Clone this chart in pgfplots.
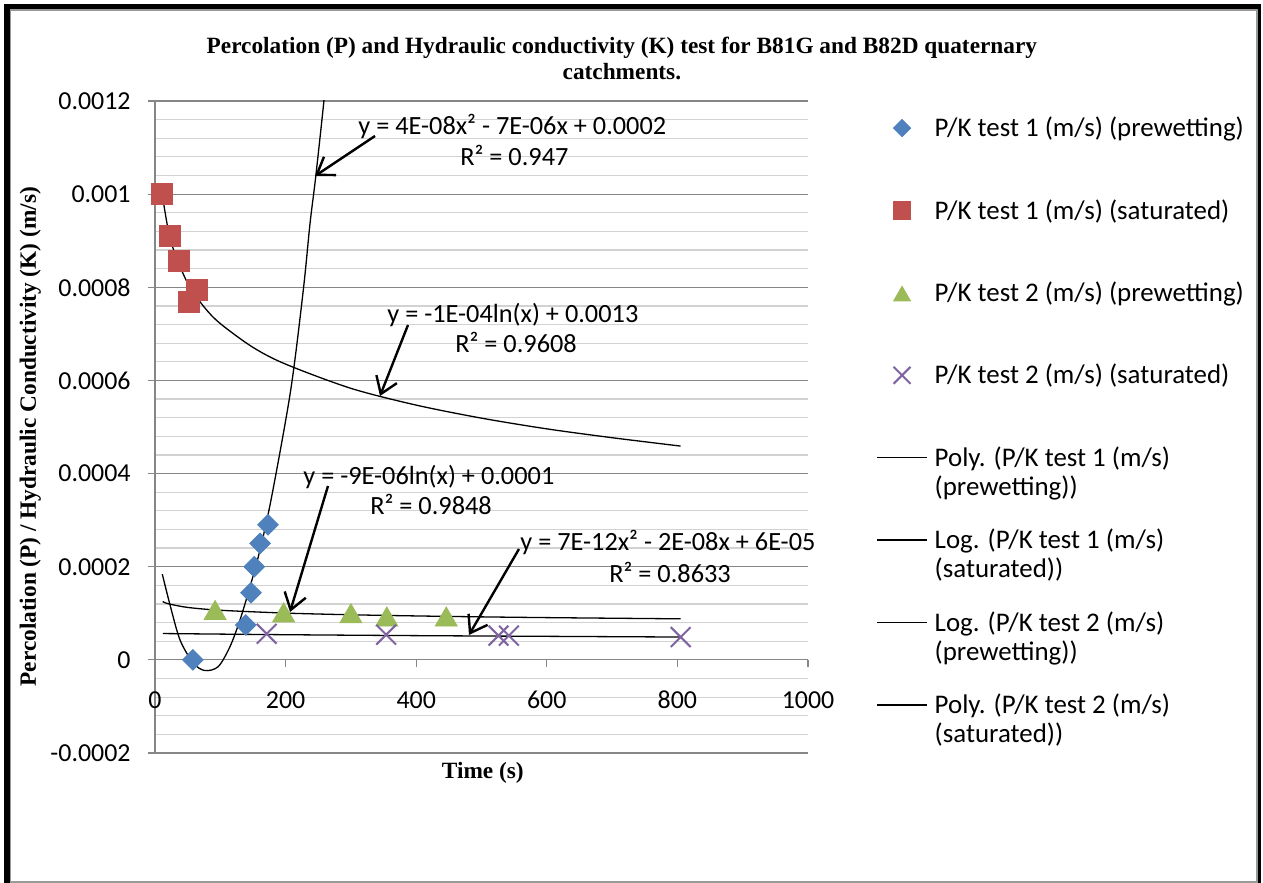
\documentclass[border=0pt]{standalone}
\usepackage{pgfplots}
\pgfplotsset{compat=1.18}
\usetikzlibrary{arrows.meta}
\usepackage{fontspec}
\setmainfont{Carlito}
\newfontfamily\tnr{Liberation Serif}

\definecolor{gridmaj}{RGB}{134,134,134}
\definecolor{gridmin}{RGB}{210,210,210}
\definecolor{xlblue}{RGB}{79,129,189}
\definecolor{xlred}{RGB}{192,80,77}
\definecolor{xlgreen}{RGB}{155,187,89}
\definecolor{xlpurple}{RGB}{128,100,162}

\newcommand{\lgd}[2]{\parbox[t]{158bp}{\fontsize{13.5}{14.5}\selectfont\strut #1\\\strut #2}}
\newcommand{\lgs}[1]{\parbox[t]{158bp}{\fontsize{13.5}{14.5}\selectfont\strut #1}}
\newcommand{\lblfont}{\tnr\bfseries\fontsize{11.7}{13}\selectfont}
\newcommand{\txtfont}{\fontsize{13}{14.5}\selectfont}
\newcommand{\annfont}{\fontsize{13.2}{14.5}\selectfont}

\pgfplotsset{
  xlmarkleg/.style={legend image code/.code={\draw[mark repeat=2,mark phase=2,##1] plot coordinates {(0bp,0bp)(12.5bp,0bp)(25bp,0bp)};}},
  xllineleg/.style={legend image code/.code={\draw[##1] (0bp,0bp) -- (25bp,0bp);}},
}

\begin{document}
\begin{tikzpicture}
\begin{scope}[x=0.5bp,y=-0.5bp,yshift=441.5bp]
  \fill[black] (4,4) rectangle (1261,883);
  \fill[black!40] (10,9) rectangle (1258,883);
  \fill[white] (11.5,11) rectangle (1256,881);
\end{scope}

\begin{axis}[
  at={(77.5bp,65bp)}, anchor=south west,
  width=326.5bp, height=326bp, scale only axis,
  xmin=0, xmax=1000, ymin=-0.0002, ymax=0.0012,
  scaled x ticks=false, scaled y ticks=false,
  axis x line*=middle, axis y line*=left,
  axis line style={draw=gridmaj, line width=0.6bp},
  hide obscured x ticks=false, hide obscured y ticks=false,
  xtick={0,200,400,600,800,1000},
  xticklabels={0,200,400,600,800,1000},
  ytick={-0.0002,0,0.0002,0.0004,0.0006,0.0008,0.001,0.0012},
  yticklabels={-0.0002,0,0.0002,0.0004,0.0006,0.0008,0.001,0.0012},
  minor y tick num=4,
  ymajorgrids, yminorgrids,
  major grid style={draw=gridmaj, line width=0.6bp},
  minor grid style={draw=gridmin, line width=0.6bp},
  tick align=outside, major tick length=3.5bp, minor tick length=0pt,
  tick style={draw=gridmaj, line width=0.6bp},
  xticklabel style={font=\txtfont, anchor=north, inner sep=0pt, yshift=-12bp},
  yticklabel style={font=\txtfont, anchor=east, inner sep=0pt, xshift=-8.5bp},
  title={Percolation (P) and Hydraulic conductivity (K) test for B81G and B82D quaternary\\catchments.},
  title style={font=\lblfont, align=center, at={(axis description cs:0.715,1.047)}, anchor=center},
  xlabel={Time (s)},
  xlabel style={font=\lblfont, at={(axis description cs:0.502,-0.031)}, anchor=center},
  ylabel={Percolation (P) / Hydraulic Conductivity (K) (m/s)},
  ylabel style={font=\lblfont, at={(axis description cs:-0.191,0.485)}, anchor=center},
  legend style={at={(axis description cs:1.095,0.983)}, anchor=north west,
    draw=none, fill=none, font=\txtfont, row sep=29.6bp, nodes={inner sep=0pt},
    /tikz/every odd column/.append style={column sep=3.5bp}},
  legend cell align=left,
]
% P/K test 1 (prewetting)
\addplot[only marks, mark=square*, mark size=3.65bp, mark options={rotate=45, draw=xlblue, fill=xlblue},
  xlmarkleg, legend image post style={mark size=3.05bp}] coordinates {
  (58,0) (139,0.000075) (147,0.000144) (152,0.0002) (161,0.00025) (173,0.00029)
};
\addlegendentry{\lgs{P/K test 1 (m/s) (prewetting)}}
% P/K test 1 (saturated)
\addplot[only marks, mark=square*, mark size=5.25bp, mark options={draw=xlred, fill=xlred},
  xlmarkleg, legend image post style={mark size=4.3bp}] coordinates {
  (11,0.001) (23,0.00091) (36,0.000857) (52,0.000769) (64,0.000794)
};
\addlegendentry{\lgs{P/K test 1 (m/s) (saturated)}}
% P/K test 2 (prewetting)
\addplot[only marks, mark=triangle*, mark size=6.35bp, mark options={draw=xlgreen, fill=xlgreen, yshift=-1.6bp},
  xlmarkleg, legend image post style={mark size=4.9bp}] coordinates {
  (92,0.000107) (197,0.000102) (300,0.0001) (355,0.000093) (446,0.000093)
};
\addlegendentry{\lgs{P/K test 2 (m/s) (prewetting)}}
% P/K test 2 (saturated)
\addplot[only marks, mark=x, mark size=7bp, mark options={draw=xlpurple, line width=1bp},
  xlmarkleg, legend image post style={mark size=6bp}] coordinates {
  (171,0.000056) (354,0.000054) (526,0.000052) (542,0.000052) (805,0.000049)
};
\addlegendentry{\lgs{P/K test 2 (m/s) (saturated)}}
% trendlines
\addplot[black, line width=0.65bp, smooth, xllineleg] coordinates {
  (11.2,0.000184) (23,0.000118) (38.3,0.0000429) (58.7,-0.0000071) (76.6,-0.000023)
  (96.9,-0.0000144) (114.9,0.0000285) (130.2,0.0000858) (145.5,0.000157) (160.8,0.000236)
  (178.6,0.00035) (207.8,0.000579) (227.1,0.000794) (237.4,0.000937) (246.1,0.001037)
  (258.8,0.001202) (262,0.00126)
};
\addlegendentry{\lgd{Poly. (P/K test 1 (m/s)}{(prewetting))}}
\addplot[black, line width=0.65bp, smooth, xllineleg] coordinates {
  (11,0.001) (20,0.000925) (30,0.000874) (50,0.000809) (75,0.000758) (100,0.000722)
  (150,0.000671) (200,0.000635) (300,0.000583) (400,0.000547) (500,0.000519)
  (600,0.000496) (700,0.000477) (805,0.000459)
};
\addlegendentry{\lgd{Log. (P/K test 1 (m/s)}{(saturated))}}
\addplot[black, line width=0.65bp, smooth, xllineleg] coordinates {
  (11.8,0.0001253) (20,0.0001206) (50,0.0001126) (100,0.0001065) (200,0.0001004)
  (300,0.0000968) (400,0.0000943) (500,0.0000923) (600,0.0000907) (700,0.0000894)
  (805,0.0000881)
};
\addlegendentry{\lgd{Log. (P/K test 2 (m/s)}{(prewetting))}}
\addplot[black, line width=0.65bp, smooth, xllineleg] coordinates {
  (12,0.0000565) (200,0.000054) (400,0.000052) (600,0.0000505) (805,0.000049)
};
\addlegendentry{\lgd{Poly. (P/K test 2 (m/s)}{(saturated))}}
\end{axis}

\begin{scope}[x=0.5bp,y=-0.5bp,yshift=441.5bp, font=\annfont]
  \node[anchor=base west, inner sep=0pt] at (358,135) {y = 4E-08x² - 7E-06x + 0.0002};
  \node[anchor=base west, inner sep=0pt] at (460,166) {R² = 0.947};
  \node[anchor=base west, inner sep=0pt] at (387,323) {y = -1E-04ln(x) + 0.0013};
  \node[anchor=base west, inner sep=0pt] at (455,353) {R² = 0.9608};
  \node[anchor=base west, inner sep=0pt] at (303,485) {y = -9E-06ln(x) + 0.0001};
  \node[anchor=base west, inner sep=0pt] at (370,515) {R² = 0.9848};
  \node[anchor=base west, inner sep=0pt] at (520,551) {y = 7E-12x² - 2E-08x + 6E-05};
  \node[anchor=base west, inner sep=0pt] at (609,583) {R² = 0.8633};
  \begin{scope}[line width=1.2bp, -{Straight Barb[length=8bp,width=11bp]}]
    \draw (375,136) -- (315,176);
    \draw (408,325) -- (380,396);
    \draw (328,486) -- (290,612);
    \draw (519,549) -- (469,635);
  \end{scope}
\end{scope}
\pgfresetboundingbox
\useasboundingbox (0,0) rectangle (631.5bp,441.5bp);
\end{tikzpicture}
\end{document}
